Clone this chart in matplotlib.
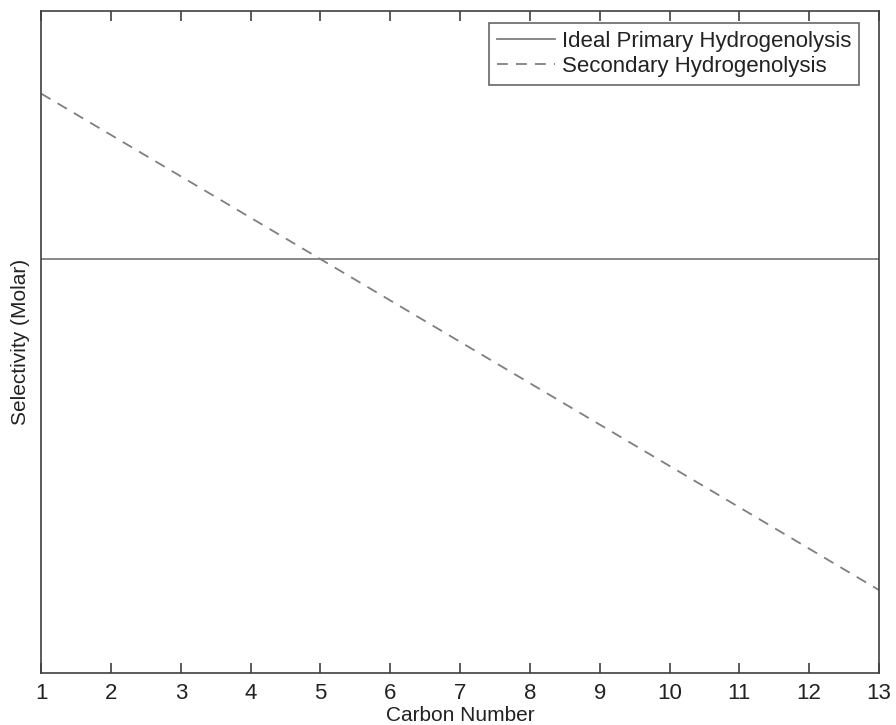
import matplotlib.pyplot as plt

# Molar selectivity against carbon number for the two hydrogenolysis cases
carbon_number = [1, 2, 3, 4, 5, 6, 7, 8, 9, 10, 11, 12, 13]
ideal_primary = [0.625] * len(carbon_number)
secondary = [0.875, 0.8125, 0.75, 0.6875, 0.625, 0.5625, 0.5,
             0.4375, 0.375, 0.3125, 0.25, 0.1875, 0.125]
series_labels = ["Ideal Primary Hydrogenolysis", "Secondary Hydrogenolysis"]

plt.rcParams["font.family"] = ["Liberation Sans", "DejaVu Sans"]

fig = plt.figure(figsize=(8.96, 7.25), dpi=100)
ax = fig.add_axes([0.046, 0.072, 0.935, 0.913])

line_color = "#7f7f7f"
ax.plot(carbon_number, ideal_primary, color=line_color, lw=1.3, ls="-",
        label=series_labels[0])
ax.plot(carbon_number, secondary, color=line_color, lw=1.3, ls=(0, (6, 4.5)),
        label=series_labels[1])

ax.set_xlim(1, 13)
ax.set_ylim(0, 1)
ax.set_xticks(carbon_number)
ax.set_yticks([])
ax.tick_params(axis="x", direction="in", top=True, length=7, width=1.2,
               color="#404040", labelsize=16, labelcolor="#222222", pad=7)
for spine in ax.spines.values():
    spine.set_color("#404040")
    spine.set_linewidth(1.2)

ax.set_xlabel("Carbon Number", fontsize=15, color="#222222", labelpad=2)
ax.set_ylabel("Selectivity (Molar)", fontsize=15, color="#222222", labelpad=8)

leg = ax.legend(loc="upper right", bbox_to_anchor=(0.976, 0.982), fontsize=16,
                frameon=True, fancybox=False, handlelength=2.6,
                handletextpad=0.3, borderpad=0.35, labelspacing=0.2,
                borderaxespad=0)
leg.get_frame().set_edgecolor("#404040")
leg.get_frame().set_linewidth(1.2)
for txt in leg.get_texts():
    txt.set_color("#222222")

fig.savefig("out.png", dpi=100)
